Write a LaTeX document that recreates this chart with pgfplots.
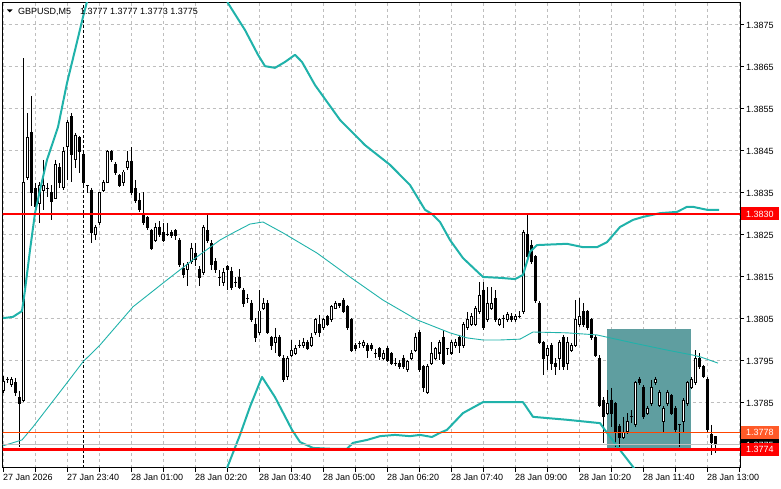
\documentclass[border=0pt]{standalone}
\usepackage{fontspec}
\setmainfont{Liberation Sans}
\usepackage{pgfplots}
\usepackage{pgfplotstable}
\pgfplotsset{compat=1.18}
\definecolor{bband}{RGB}{32,178,170}
\definecolor{gridc}{RGB}{190,190,190}
\definecolor{rectc}{RGB}{95,158,160}
\definecolor{ored}{RGB}{255,69,0}
\definecolor{olab}{RGB}{255,90,40}
\definecolor{bidc}{RGB}{192,192,192}

\pgfplotstableread{
i o h l c
0 1.37879 1.37914 1.37874 1.37902
1 1.37907 1.37912 1.37898 1.37907
2 1.37895 1.37912 1.37888 1.37905
3 1.37898 1.37910 1.37867 1.37876
4 1.37864 1.37879 1.37745 1.37848
5 1.37855 1.38671 1.37852 1.38376
6 1.38388 1.38541 1.38381 1.38481
7 1.38493 1.38581 1.38319 1.38350
8 1.38360 1.38374 1.38302 1.38317
9 1.38326 1.38376 1.38279 1.38369
10 1.38357 1.38429 1.38310 1.38367
11 1.38360 1.38374 1.38341 1.38360
12 1.38350 1.38369 1.38286 1.38329
13 1.38338 1.38429 1.38336 1.38417
14 1.38410 1.38421 1.38362 1.38376
15 1.38362 1.38460 1.38357 1.38448
16 1.38460 1.38524 1.38381 1.38519
17 1.38531 1.38541 1.38376 1.38441
18 1.38429 1.38493 1.38410 1.38488
19 1.38481 1.38486 1.38398 1.38448
20 1.38441 1.38448 1.38369 1.38376
21 1.38367 1.38367 1.38350 1.38367
22 1.38357 1.38362 1.38231 1.38257
23 1.38250 1.38274 1.38238 1.38269
24 1.38279 1.38352 1.38274 1.38350
25 1.38357 1.38381 1.38352 1.38376
26 1.38376 1.38452 1.38374 1.38448
27 1.38448 1.38452 1.38424 1.38429
28 1.38419 1.38424 1.38393 1.38398
29 1.38391 1.38395 1.38364 1.38369
30 1.38376 1.38405 1.38367 1.38400
31 1.38410 1.38450 1.38405 1.38426
32 1.38426 1.38460 1.38345 1.38350
33 1.38360 1.38381 1.38326 1.38331
34 1.38331 1.38350 1.38305 1.38310
35 1.38302 1.38352 1.38274 1.38279
36 1.38291 1.38295 1.38262 1.38267
37 1.38260 1.38264 1.38214 1.38219
38 1.38238 1.38279 1.38233 1.38267
39 1.38269 1.38283 1.38245 1.38250
40 1.38257 1.38279 1.38233 1.38238
41 1.38252 1.38279 1.38248 1.38252
42 1.38257 1.38262 1.38243 1.38248
43 1.38260 1.38264 1.38238 1.38248
44 1.38238 1.38243 1.38174 1.38179
45 1.38171 1.38183 1.38148 1.38157
46 1.38169 1.38186 1.38129 1.38179
47 1.38186 1.38231 1.38181 1.38219
48 1.38207 1.38231 1.38176 1.38191
49 1.38169 1.38176 1.38129 1.38148
50 1.38160 1.38274 1.38155 1.38269
51 1.38260 1.38302 1.38231 1.38236
52 1.38229 1.38238 1.38167 1.38179
53 1.38188 1.38195 1.38160 1.38167
54 1.38148 1.38167 1.38129 1.38148
55 1.38136 1.38171 1.38129 1.38160
56 1.38174 1.38179 1.38119 1.38169
57 1.38162 1.38174 1.38119 1.38126
58 1.38138 1.38150 1.38126 1.38138
59 1.38148 1.38169 1.38121 1.38126
60 1.38119 1.38124 1.38079 1.38088
61 1.38098 1.38110 1.38088 1.38098
62 1.38088 1.38095 1.38043 1.38048
63 1.38038 1.38052 1.37995 1.38007
64 1.38017 1.38119 1.38012 1.38069
65 1.38076 1.38100 1.38071 1.38088
66 1.38088 1.38095 1.38014 1.38017
67 1.38007 1.38010 1.37976 1.37988
68 1.37995 1.38029 1.37969 1.38007
69 1.38007 1.38012 1.37960 1.37964
70 1.37957 1.37964 1.37900 1.37907
71 1.37912 1.37962 1.37905 1.37957
72 1.37964 1.38000 1.37960 1.37976
73 1.37969 1.37988 1.37964 1.37979
74 1.37988 1.38000 1.37981 1.37988
75 1.37986 1.38005 1.37981 1.37995
76 1.37995 1.38000 1.37976 1.37979
77 1.37988 1.38017 1.37983 1.38007
78 1.38017 1.38052 1.38012 1.38048
79 1.38038 1.38060 1.38007 1.38017
80 1.38029 1.38052 1.38024 1.38048
81 1.38055 1.38060 1.38033 1.38038
82 1.38048 1.38083 1.38043 1.38079
83 1.38076 1.38093 1.38074 1.38088
84 1.38088 1.38088 1.38076 1.38081
85 1.38095 1.38100 1.38064 1.38069
86 1.38079 1.38083 1.38024 1.38029
87 1.38048 1.38052 1.37971 1.37976
88 1.37988 1.37993 1.37974 1.37979
89 1.37991 1.37998 1.37981 1.37991
90 1.37986 1.38000 1.37981 1.37995
91 1.37988 1.37993 1.37957 1.37976
92 1.37988 1.37993 1.37974 1.37979
93 1.37969 1.37979 1.37957 1.37969
94 1.37979 1.37983 1.37952 1.37960
95 1.37957 1.37976 1.37952 1.37967
96 1.37979 1.37986 1.37948 1.37952
97 1.37967 1.37971 1.37941 1.37945
98 1.37945 1.37957 1.37938 1.37945
99 1.37945 1.37952 1.37931 1.37936
100 1.37957 1.37964 1.37931 1.37936
101 1.37929 1.37952 1.37924 1.37948
102 1.37957 1.37976 1.37952 1.37967
103 1.37976 1.38017 1.37971 1.38007
104 1.38017 1.38024 1.37924 1.37929
105 1.37936 1.37941 1.37876 1.37888
106 1.37874 1.37943 1.37871 1.37938
107 1.37945 1.37995 1.37941 1.37969
108 1.37957 1.37983 1.37952 1.37979
109 1.37969 1.38000 1.37952 1.37995
110 1.38007 1.38024 1.37941 1.37945
111 1.37979 1.37979 1.37964 1.37979
112 1.37969 1.38000 1.37964 1.37995
113 1.37986 1.38002 1.37981 1.37995
114 1.38007 1.38012 1.37969 1.37986
115 1.37986 1.38043 1.37981 1.38036
116 1.38029 1.38067 1.38024 1.38048
117 1.38038 1.38064 1.38033 1.38055
118 1.38038 1.38081 1.38033 1.38076
119 1.38067 1.38138 1.38062 1.38107
120 1.38119 1.38138 1.38024 1.38029
121 1.38048 1.38126 1.38043 1.38088
122 1.38076 1.38126 1.38071 1.38088
123 1.38098 1.38119 1.38043 1.38048
124 1.38038 1.38052 1.38033 1.38048
125 1.38052 1.38060 1.38029 1.38052
126 1.38048 1.38067 1.38043 1.38060
127 1.38057 1.38064 1.38043 1.38048
128 1.38048 1.38062 1.38043 1.38057
129 1.38057 1.38069 1.38052 1.38057
130 1.38067 1.38262 1.38062 1.38257
131 1.38250 1.38302 1.38193 1.38198
132 1.38226 1.38238 1.38181 1.38186
133 1.38198 1.38202 1.38088 1.38095
134 1.38088 1.38093 1.37991 1.37995
135 1.37993 1.37998 1.37917 1.37957
136 1.37964 1.37988 1.37929 1.37979
137 1.37988 1.37993 1.37929 1.37945
138 1.37945 1.37957 1.37917 1.37936
139 1.37957 1.38000 1.37929 1.37995
140 1.38007 1.38012 1.37929 1.37936
141 1.37945 1.38007 1.37929 1.37995
142 1.37976 1.37993 1.37971 1.37986
143 1.37988 1.38095 1.37983 1.38048
144 1.38036 1.38100 1.38031 1.38057
145 1.38067 1.38088 1.38031 1.38036
146 1.38067 1.38071 1.38024 1.38029
147 1.38048 1.38052 1.38000 1.38007
148 1.38007 1.38012 1.37960 1.37964
149 1.37957 1.37964 1.37841 1.37845
150 1.37857 1.37864 1.37755 1.37817
151 1.37826 1.37881 1.37821 1.37848
152 1.37857 1.37886 1.37793 1.37826
153 1.37848 1.37852 1.37745 1.37779
154 1.37795 1.37800 1.37745 1.37767
155 1.37767 1.37817 1.37764 1.37779
156 1.37781 1.37826 1.37776 1.37805
157 1.37817 1.37833 1.37802 1.37817
158 1.37798 1.37902 1.37793 1.37898
159 1.37907 1.37912 1.37893 1.37898
160 1.37888 1.37893 1.37812 1.37817
161 1.37826 1.37843 1.37821 1.37838
162 1.37848 1.37905 1.37843 1.37888
163 1.37898 1.37912 1.37893 1.37907
164 1.37845 1.37881 1.37841 1.37876
165 1.37807 1.37843 1.37779 1.37838
166 1.37848 1.37881 1.37843 1.37876
167 1.37867 1.37871 1.37821 1.37826
168 1.37838 1.37843 1.37779 1.37786
169 1.37798 1.37798 1.37745 1.37798
170 1.37807 1.37862 1.37779 1.37857
171 1.37848 1.37902 1.37843 1.37898
172 1.37888 1.37912 1.37883 1.37907
173 1.37898 1.37976 1.37893 1.37957
174 1.37957 1.37969 1.37931 1.37936
175 1.37936 1.37941 1.37910 1.37914
176 1.37907 1.37912 1.37781 1.37786
177 1.37774 1.37798 1.37726 1.37755
178 1.37770 1.37770 1.37730 1.37750
}\candles

\pgfplotstableread{
i p
0 1.38052
2.5 1.38055
4.75 1.38069
5.5 1.38119
6.75 1.38214
8 1.38302
9.25 1.38357
11 1.38429
13.75 1.38507
16 1.38612
18 1.38690
20 1.38769
21.75 1.38833
26.75 1.38952
39.25 1.39048
50.5 1.38952
54.75 1.38845
56.25 1.38802
60.5 1.38738
63.75 1.38679
65.5 1.38652
68 1.38648
70.5 1.38662
73 1.38679
74.75 1.38662
78 1.38607
84.25 1.38524
90.5 1.38464
96.75 1.38417
101.75 1.38369
105.5 1.38310
107.25 1.38300
109.25 1.38281
111.75 1.38238
115 1.38195
120 1.38150
124.25 1.38148
128 1.38145
130 1.38155
131.75 1.38210
133.5 1.38226
141 1.38229
145 1.38221
148.5 1.38221
151 1.38233
154.25 1.38269
157.5 1.38286
160 1.38293
164.25 1.38302
168.5 1.38305
171 1.38317
172.5 1.38317
176 1.38310
179 1.38310
}\bbup

\pgfplotstableread{
i p
0 1.37748
4.75 1.37762
7.5 1.37793
16 1.37898
20 1.37948
24.25 1.37988
32.5 1.38079
41 1.38143
47.5 1.38191
54.25 1.38238
57.5 1.38255
61.75 1.38276
65 1.38281
70 1.38255
78.5 1.38207
86.75 1.38150
95 1.38095
103.5 1.38048
111.75 1.38017
116 1.38005
120 1.38000
124.25 1.38000
129.25 1.38002
132.5 1.38019
141 1.38017
148.5 1.38012
157.5 1.37993
166 1.37976
172.5 1.37964
174.25 1.37960
178.75 1.37945
}\bbmid

\pgfplotstableread{
i p
49.25 1.37476
53 1.37595
56 1.37695
59.25 1.37774
61.75 1.37841
64.75 1.37912
68 1.37864
72.25 1.37786
74.25 1.37757
77.5 1.37743
81.75 1.37741
86 1.37741
87.5 1.37755
91 1.37762
94.25 1.37771
98 1.37774
101.75 1.37771
104.25 1.37774
107.25 1.37769
109.25 1.37779
111 1.37786
115 1.37826
120 1.37852
124.25 1.37852
130 1.37852
132.5 1.37817
141 1.37810
149.25 1.37802
151 1.37779
154.25 1.37738
157.5 1.37698
161.75 1.37643
178.75 1.37581
}\bblow

\begin{document}
\begin{tikzpicture}[x=1pt,y=1pt,font=\fontsize{9}{11}\selectfont]
\useasboundingbox (0,0) rectangle (781,489);
\begin{axis}[
  at={(2.5pt,21pt)}, anchor=south west,
  scale only axis, width=737.5pt, height=465pt,
  xmin=-0.125, xmax=184.25, ymin=1.376952, ymax=1.388024,
  axis line style={black, line width=1pt},
  xtick={0,16,32,48,64,80,96,112,128,144,160,176},
  xticklabels={27 Jan 2026,27 Jan 23:40,28 Jan 01:00,28 Jan 02:20,28 Jan 03:40,28 Jan 05:00,28 Jan 06:20,28 Jan 07:40,28 Jan 09:00,28 Jan 10:20,28 Jan 11:40,28 Jan 13:00},
  minor xtick={8,24,40,56,72,88,104,120,136,152,168,184},
  ytick={1.3785,1.3795,1.3805,1.3815,1.3825,1.3835,1.3845,1.3855,1.3865,1.3875},
  yticklabels={1.3785,1.3795,1.3805,1.3815,1.3825,1.3835,1.3845,1.3855,1.3865,1.3875},
  xtick pos=left, ytick pos=right, yticklabel pos=right,
  tick align=outside, major tick length=4pt, minor tick length=4pt,
  tick style={black, line width=1pt},
  grid=both,
  major grid style={gridc, line width=1pt, dash pattern=on 3pt off 3pt},
  minor grid style={gridc, line width=1pt, dash pattern=on 3pt off 3pt},
  tick label style={font=\fontsize{9}{11}\selectfont, text=black},
  xticklabel style={anchor=north west, inner sep=0pt, yshift=-2pt},
  yticklabel style={anchor=west, inner sep=0pt, xshift=2pt},
]
% rectangle object
\addplot[draw=none, fill=rectc, forget plot] coordinates {(151,1.37740) (151,1.38026) (172,1.38026) (172,1.37740)} -- cycle;
% period separator
\addplot[black, line width=1pt, dash pattern=on 3pt off 2pt, forget plot] coordinates {(20,1.3760) (20,1.3890)};
% wicks
\addplot[draw=none, mark=none, forget plot,
  error bars/.cd, y dir=minus, y explicit, error mark=none,
  error bar style={draw=black, solid, line width=1pt}]
  table[x=i, y=h, y error minus expr={\thisrow{h}-\thisrow{l}}] {\candles};
% bodies (outline)
\addplot[draw=none, mark=none, forget plot,
  error bars/.cd, y dir=minus, y explicit, error mark=none,
  error bar style={draw=black, solid, line width=3pt}]
  table[x=i, y expr={max(\thisrow{o},\thisrow{c})+0.0000119},
        y error minus expr={abs(\thisrow{o}-\thisrow{c})+0.0000238}] {\candles};
% bodies (white interior for rising candles)
\addplot[draw=none, mark=none, forget plot,
  error bars/.cd, y dir=minus, y explicit, error mark=none,
  error bar style={draw=white, solid, line width=1pt}]
  table[x=i, y expr={max(\thisrow{c}-0.0000119,min(\thisrow{o},\thisrow{c}))},
        y error minus expr={max(\thisrow{c}-\thisrow{o}-0.0000238,0)}] {\candles};
% Bollinger bands
\addplot[bband, line width=2pt, line join=round, forget plot] table[x=i,y=p] {\bbup};
\addplot[bband, line width=0.9pt, line join=round, forget plot] table[x=i,y=p] {\bbmid};
\addplot[bband, line width=2pt, line join=round, forget plot] table[x=i,y=p] {\bblow};
% horizontal levels
\addplot[red, line width=2pt, forget plot] coordinates {(-5,1.3830) (190,1.3830)};
\addplot[ored, line width=1pt, forget plot] coordinates {(-5,1.3778) (190,1.3778)};
\addplot[bidc, line width=1pt, forget plot] coordinates {(-5,1.3775) (190,1.3775)};
\addplot[red, line width=3pt, forget plot] coordinates {(-5,1.3774) (190,1.3774)};
\coordinate (r1830) at (axis cs:184.25,1.3830);
\coordinate (r1778) at (axis cs:184.25,1.3778);
\coordinate (r1775) at (axis cs:184.25,1.3775);
\coordinate (r1774) at (axis cs:184.25,1.3774);
\end{axis}
% title
\fill[black] (7,479.5) -- (12.5,479.5) -- (9.75,476.5) -- cycle;
\node[anchor=base west, inner sep=0pt] at (18,474) {GBPUSD,M5};
\node[anchor=base west, inner sep=0pt] at (80,474) {1.3777 1.3777 1.3773 1.3775};
% price labels
\tikzset{plab/.style={anchor=west, text=white, inner xsep=5pt, inner ysep=0pt, minimum height=13pt}}
\node[plab, fill=black] at ([xshift=1pt]r1775) {1.3775};
\node[plab, fill=olab] at ([xshift=1pt]r1778) {1.3778};
\node[plab, fill=red] at ([xshift=1pt]r1774) {1.3774};
\node[plab, fill=red] at ([xshift=1pt]r1830) {1.3830};
\end{tikzpicture}
\end{document}
